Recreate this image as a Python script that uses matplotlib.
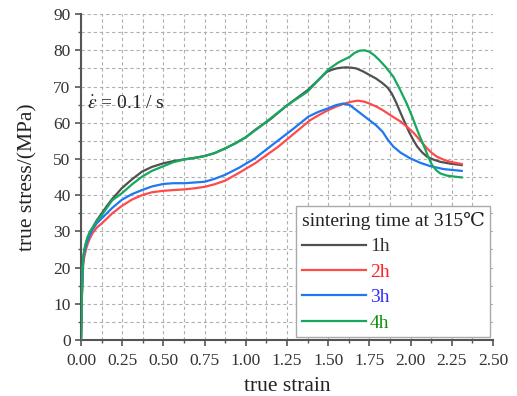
import matplotlib
matplotlib.use("Agg")
import matplotlib.pyplot as plt
from matplotlib.ticker import MultipleLocator, FormatStrFormatter
from matplotlib.lines import Line2D

plt.rcParams['font.family'] = ['Liberation Serif', 'DejaVu Serif']
plt.rcParams['mathtext.fontset'] = 'stix'

# 1h
strain_1h = [0, 0.005, 0.01, 0.015, 0.02, 0.03, 0.04, 0.055, 0.07, 0.095, 0.126, 0.16, 0.19, 0.22,
             0.247, 0.31, 0.37, 0.43, 0.5, 0.56, 0.63, 0.69, 0.75, 0.81, 0.874, 0.94, 1.0, 1.056,
             1.15, 1.25, 1.375, 1.44, 1.49, 1.52, 1.55, 1.58, 1.61, 1.64, 1.67, 1.71, 1.75, 1.79,
             1.83, 1.86, 1.885, 1.91, 1.94, 1.965, 1.99, 2.015, 2.04, 2.07, 2.10, 2.14, 2.18,
             2.24, 2.31]
stress_1h = [0, 12, 20, 23, 24.5, 26.5, 28, 29.8, 31, 33, 35, 37.2, 39, 40.5,
             41.9, 44.4, 46.5, 47.8, 48.8, 49.4, 49.9, 50.3, 50.8, 51.6, 52.9, 54.4, 56, 58,
             61, 64.8, 69, 71.8, 74, 74.6, 75, 75.2, 75.3, 75.2, 75, 74.2, 73.2, 72.2,
             70.9, 69.7, 68.1, 65.8, 62.6, 60, 57.5, 55.3, 53.4, 51.8, 50.6, 49.8, 49.2,
             48.7, 48.3]
# 2h
strain_2h = [0, 0.005, 0.01, 0.015, 0.02, 0.03, 0.04, 0.055, 0.07, 0.095, 0.126, 0.19, 0.247,
             0.31, 0.37, 0.43, 0.5, 0.56, 0.63, 0.69, 0.75, 0.81, 0.874, 0.96, 1.056, 1.2, 1.3,
             1.39, 1.45, 1.5, 1.55, 1.6, 1.64, 1.68, 1.72, 1.75, 1.79, 1.83, 1.88, 1.94, 1.98,
             2.02, 2.06, 2.10, 2.13, 2.16, 2.2, 2.24, 2.31]
stress_2h = [0, 11, 19, 21.5, 23, 25, 26.5, 28.2, 29.5, 31, 32.2, 35, 37,
             38.8, 40, 40.8, 41.2, 41.4, 41.6, 41.9, 42.3, 43, 44, 46.2, 48.8, 53.5, 57.3,
             60.7, 62.3, 63.5, 64.5, 65.3, 65.8, 66.1, 65.8, 65.3, 64.5, 63.5, 62, 60.3, 58.8,
             57.1, 55, 52.9, 51.6, 50.6, 49.8, 49.2, 48.6]
# 3h
strain_3h = [0, 0.005, 0.01, 0.015, 0.02, 0.03, 0.04, 0.055, 0.07, 0.095, 0.126, 0.19, 0.247,
             0.31, 0.37, 0.43, 0.5, 0.56, 0.63, 0.69, 0.75, 0.81, 0.874, 0.96, 1.056, 1.15, 1.29,
             1.38, 1.44, 1.5, 1.55, 1.59, 1.63, 1.67, 1.71, 1.75, 1.79, 1.83, 1.86, 1.895, 1.94,
             1.996, 2.06, 2.12, 2.2, 2.31]
stress_3h = [0, 12, 20, 22.5, 24, 26, 27.5, 29.2, 30.5, 32.2, 33.6, 36.5, 38.7,
             40.3, 41.4, 42.4, 43.1, 43.3, 43.3, 43.5, 43.7, 44.5, 45.6, 47.6, 50.2, 53.5, 58.4,
             61.7, 63, 64, 64.9, 65.3, 64.9, 63.5, 62.1, 60.7, 59.3, 57.5, 55.4, 53.4, 51.7,
             50.2, 48.9, 48, 47.2, 46.7]
# 4h
strain_4h = [0, 0.005, 0.01, 0.015, 0.02, 0.03, 0.04, 0.055, 0.07, 0.095, 0.126, 0.16, 0.19,
             0.247, 0.31, 0.37, 0.43, 0.5, 0.56, 0.63, 0.69, 0.75, 0.81, 0.874, 0.94, 1.0, 1.086,
             1.25, 1.375, 1.5, 1.56, 1.63, 1.66, 1.69, 1.72, 1.75, 1.78, 1.81, 1.85, 1.895, 1.935,
             1.976, 2.01, 2.04, 2.065, 2.09, 2.11, 2.13, 2.155, 2.18, 2.22, 2.27, 2.31]
stress_4h = [0, 12, 20, 23.5, 25, 27, 28.5, 30, 31, 32.8, 34.5, 36.7, 38.6,
             40.5, 43, 45.1, 46.7, 48, 49.1, 49.9, 50.3, 50.8, 51.6, 52.9, 54.4, 56, 58.9,
             64.8, 68.6, 74.7, 76.6, 78.2, 79.3, 79.9, 80, 79.6, 78.6, 77.3, 75.3, 72.7, 69.2,
             65.3, 61.6, 58, 55.2, 52.5, 50.2, 48.3, 46.9, 46, 45.4, 45.1, 44.9]

labels = ['1h', '2h', '3h', '4h']
line_colors = ['#505050', '#ff4a4a', '#1e78f0', '#16a85c']
text_colors = ['#333333', '#ff2020', '#3030ff', '#109010']

fig = plt.figure(figsize=(5.17, 3.96), dpi=100)
ax = fig.add_axes([0.1567, 0.1414, 0.797, 0.823])

curves = [(strain_1h, stress_1h), (strain_2h, stress_2h),
          (strain_3h, stress_3h), (strain_4h, stress_4h)]
for (xs, ys), c in zip(curves, line_colors):
    ax.plot(xs, ys, color=c, lw=1.6, zorder=3, solid_joinstyle='round')

ax.set_xlim(0, 2.5)
ax.set_ylim(0, 90)
ax.xaxis.set_major_locator(MultipleLocator(0.25))
ax.xaxis.set_minor_locator(MultipleLocator(0.125))
ax.yaxis.set_major_locator(MultipleLocator(10))
ax.yaxis.set_minor_locator(MultipleLocator(5))
ax.xaxis.set_major_formatter(FormatStrFormatter('%.2f'))

ax.grid(which='both', color='#b0b0b0', linestyle=(0, (3, 2.5)), lw=0.8)
ax.set_axisbelow(True)
for s in ['top', 'right']:
    ax.spines[s].set_visible(False)
for s in ['left', 'bottom']:
    ax.spines[s].set_color('#555555')
    ax.spines[s].set_linewidth(1.5)
ax.tick_params(which='major', direction='out', length=4, width=1.2, color='#555555',
               labelsize=12.5, labelcolor='#333333')
ax.tick_params(axis='x', which='major', pad=5)
ax.tick_params(which='minor', direction='out', length=2.5, width=1.0, color='#555555')

ax.set_xlabel('true strain', fontsize=15.5, color='#222222', labelpad=6)
ax.set_ylabel('true stress/(MPa)', fontsize=15.5, color='#222222', labelpad=11)

ax.text(0.035, 65, r'$\dot{\varepsilon}$ = 0.1 / s', fontsize=14, color='#222222',
        va='center', ha='left')

handles = [Line2D([], [], color=c, lw=1.6) for c in line_colors]
leg = ax.legend(handles, labels, title='sintering time at 315℃',
                loc='lower left', bbox_to_anchor=(0.522, 0.008, 0.47, 0.415),
                mode='expand', fontsize=14, title_fontsize=14, frameon=True,
                fancybox=False, edgecolor='#aaaaaa', framealpha=1,
                handlelength=3.3, handletextpad=0.2, labelspacing=0.4,
                borderpad=0.3, borderaxespad=0)
leg.get_frame().set_linewidth(1.0)
leg._legend_box.align = 'left'
for t, c in zip(leg.get_texts(), text_colors):
    t.set_color(c)
leg.get_title().set_color('#222222')

fig.savefig('out.png', dpi=100)
